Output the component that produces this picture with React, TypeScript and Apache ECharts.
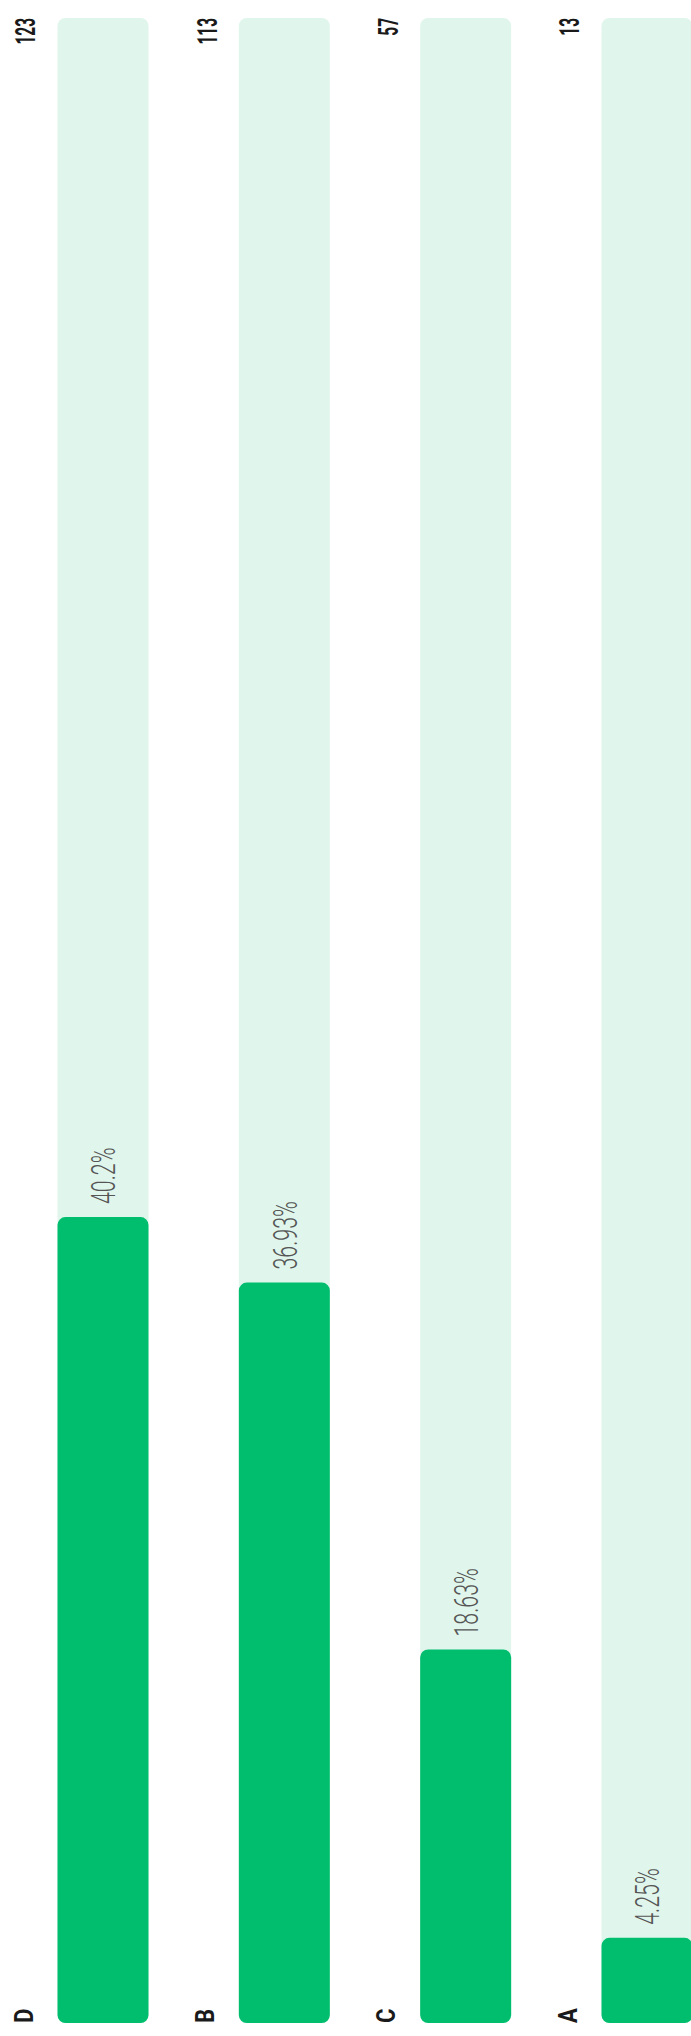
import React, { useEffect, useRef } from "react";
import * as echarts from "echarts";

const categories = ["D", "B", "C", "A"];
const counts = [123, 113, 57, 13];
const percentLabels = ["40.2%", "36.93%", "18.63%", "4.25%"];
const axisMax = 306;

const GREEN = "#00BE6E";
const LIGHT = "#E0F6EC";

export default function App() {
  const ref = useRef<HTMLDivElement>(null);

  useEffect(() => {
    if (!ref.current) return;
    const chart = echarts.init(ref.current, null, { renderer: "svg" });

    const labelData = counts.map((v, i) => [i, v]);

    const option: any = {
      animation: false,
      backgroundColor: "#ffffff",
      grid: { left: 103, right: 44, top: 18, bottom: 13, containLabel: false },
      xAxis: {
        type: "category",
        data: categories,
        boundaryGap: false,
        axisLine: { show: false },
        axisTick: { show: false },
        axisLabel: { show: false },
        splitLine: { show: false },
      },
      yAxis: {
        type: "value",
        min: 0,
        max: axisMax,
        axisLine: { show: false },
        axisTick: { show: false },
        axisLabel: { show: false },
        splitLine: { show: false },
      },
      series: [
        {
          type: "bar",
          data: counts,
          barWidth: 91,
          clip: false,
          showBackground: true,
          backgroundStyle: { color: LIGHT, borderRadius: 8 },
          itemStyle: { color: GREEN, borderRadius: 8 },
          silent: true,
        },
        {
          type: "custom",
          data: labelData,
          encode: { x: 0, y: 1 },
          clip: false,
          silent: true,
          z: 10,
          renderItem: (params: any, api: any) => {
            const idx = api.value(0);
            const val = api.value(1);
            const top = api.coord([idx, val]);
            const base = api.coord([idx, 0]);
            const full = api.coord([idx, axisMax]);
            const i = params.dataIndex;
            const cx = top[0];
            return {
              type: "group",
              children: [
                {
                  type: "text",
                  x: cx - 79,
                  y: base[1],
                  rotation: Math.PI / 2,
                  scaleX: 0.85,
                  style: {
                    text: categories[i],
                    fontSize: 26,
                    fontWeight: "bold",
                    fontFamily: "Roboto, 'Noto Sans', sans-serif",
                    fill: "#1a1a1a",
                    align: "left",
                    verticalAlign: "middle",
                  },
                },
                {
                  type: "text",
                  x: cx - 77,
                  y: full[1],
                  rotation: Math.PI / 2,
                  scaleX: 0.55,
                  style: {
                    text: String(counts[i]),
                    fontSize: 28,
                    fontWeight: "bold",
                    fontFamily: "Roboto, 'Noto Sans', sans-serif",
                    fill: "#1a1a1a",
                    align: "right",
                    verticalAlign: "middle",
                  },
                },
                {
                  type: "text",
                  x: cx + 1,
                  y: top[1] - 13,
                  rotation: Math.PI / 2,
                  scaleX: 0.63,
                  style: {
                    text: percentLabels[i],
                    fontSize: 34,
                    fontWeight: 300,
                    fontFamily: "Roboto, 'Noto Sans', sans-serif",
                    fill: "#555555",
                    align: "left",
                    verticalAlign: "middle",
                  },
                },
              ],
            };
          },
        },
      ],
    };

    chart.setOption(option);
    return () => chart.dispose();
  }, []);

  return (
    <div
      ref={ref}
      style={{ position: "absolute", left: 0, top: 0, width: 691, height: 2036 }}
    />
  );
}
